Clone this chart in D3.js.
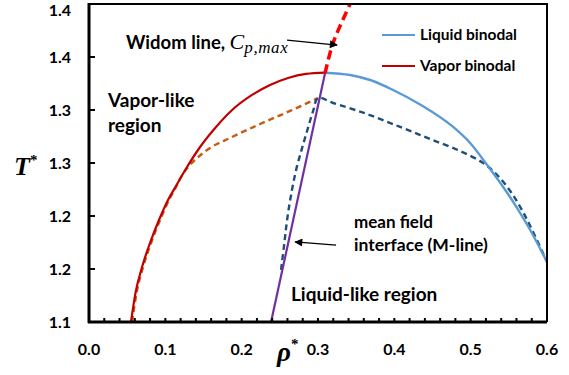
<!DOCTYPE html>
<html>
<head>
<meta charset="utf-8">
<script src="https://cdn.jsdelivr.net/npm/d3@7"></script>
<style>
  body { margin: 0; background: #fff; }
  text { font-family: Lato, "Open Sans", sans-serif; font-weight: bold; fill: #000; }
</style>
</head>
<body>
<div id="chart"></div>
<script>
var margin = {top: 4, right: 22, bottom: 53, left: 89}
var width = 569 - margin.left - margin.right
var height = 375 - margin.top - margin.bottom

// tick values and the (rounded) labels printed on the axis
var xTicks = [0, 0.1, 0.2, 0.3, 0.4, 0.5, 0.6]
var xTickLabels = ["0.0", "0.1", "0.2", "0.3", "0.4", "0.5", "0.6"]
var yTicks = [1.1, 1.15, 1.2, 1.25, 1.3, 1.35, 1.4]
var yTickLabels = ["1.1", "1.2", "1.2", "1.3", "1.3", "1.4", "1.4"]

// [rho*, T*]
var vaporBinodal = [
  [0.0550, 1.1], [0.0609, 1.1274], [0.0695, 1.1519], [0.0799, 1.1745], [0.0917, 1.1962],
  [0.1035, 1.2151], [0.1140, 1.2283], [0.1284, 1.2462], [0.1455, 1.2651], [0.1664, 1.2840],
  [0.1861, 1.2991], [0.2136, 1.3142], [0.2372, 1.3236], [0.2608, 1.3302], [0.2844, 1.3340],
  [0.3093, 1.3352]
]
var liquidBinodal = [
  [0.3093, 1.3352], [0.3421, 1.3330], [0.3683, 1.3283], [0.3984, 1.3189], [0.4338, 1.3052],
  [0.4771, 1.2840], [0.4993, 1.2689], [0.5216, 1.2481], [0.5426, 1.2274], [0.5609, 1.2075],
  [0.5780, 1.1868], [0.6, 1.1566]
]
var vaporMeanField = [
  [0.0564, 1.1], [0.0623, 1.1274], [0.0708, 1.1519], [0.0813, 1.1745], [0.0931, 1.1962],
  [0.1048, 1.2151], [0.1140, 1.2274], [0.1206, 1.2368], [0.1298, 1.2462], [0.1415, 1.2547],
  [0.1586, 1.2642], [0.1848, 1.2736], [0.2241, 1.2868], [0.2634, 1.2991], [0.3001, 1.3113]
]
var liquidMeanField = [
  [0.2516, 1.1491], [0.2556, 1.1726], [0.2595, 1.1962], [0.2647, 1.2198], [0.2713, 1.2434],
  [0.2792, 1.2642], [0.2857, 1.2802], [0.2936, 1.2991], [0.3001, 1.3113], [0.3198, 1.3066],
  [0.3643, 1.2962], [0.4076, 1.2840], [0.4469, 1.2726], [0.4862, 1.2613], [0.5164, 1.2500],
  [0.5347, 1.2387], [0.5518, 1.2236], [0.5649, 1.2085], [0.5780, 1.1906], [0.6, 1.1566]
]
var mLine = [[0.2385, 1.1], [0.3093, 1.3349]]
var widomLine = [[0.3093, 1.3349], [0.3198, 1.3632], [0.3421, 1.4]]

var svg = d3.select("#chart").append("svg")
    .attr("width", 569)
    .attr("height", 375)

var g = svg.append("g")
    .attr("transform", "translate(" + margin.left + "," + margin.top + ")")

var x = d3.scaleLinear().domain([0, 0.6]).range([0, width])
var y = d3.scaleLinear().domain([1.1, 1.4]).range([height, 0])

var monotone = d3.line()
    .x(function(d){ return x(d[0]) })
    .y(function(d){ return y(d[1]) })
    .curve(d3.curveMonotoneX)
var smooth = d3.line()
    .x(function(d){ return x(d[0]) })
    .y(function(d){ return y(d[1]) })
    .curve(d3.curveCatmullRom.alpha(0.5))
var straight = d3.line()
    .x(function(d){ return x(d[0]) })
    .y(function(d){ return y(d[1]) })

svg.append("defs").append("marker")
    .attr("id", "arrow")
    .attr("viewBox", "0 0 10 10")
    .attr("refX", 9).attr("refY", 5)
    .attr("markerWidth", 10).attr("markerHeight", 8)
    .attr("markerUnits", "userSpaceOnUse")
    .attr("orient", "auto")
  .append("path")
    .attr("d", "M0,0 L10,5 L0,10 z")
    .attr("fill", "#000")

// curves
function curve(data, gen, color, w, dash){
  g.append("path")
    .datum(data)
    .attr("d", gen)
    .attr("fill", "none")
    .attr("stroke", color)
    .attr("stroke-width", w)
    .attr("stroke-dasharray", dash)
}
curve(vaporMeanField, monotone, "#C55A11", 2.4, "6,4")
curve(liquidMeanField, smooth, "#1F4E79", 2.4, "6,4")
curve(liquidBinodal, monotone, "#5B9BD5", 2.4, null)
curve(vaporBinodal, monotone, "#C00000", 2.2, null)
curve(mLine, straight, "#7030A0", 2.2, null)
curve(widomLine, smooth, "#FF0000", 3.5, "9,5")

// frame
g.append("path")
    .attr("d", "M0,0 H" + width + " V" + height)
    .attr("fill", "none").attr("stroke", "#000").attr("stroke-width", 2)

// x axis: minor ticks every 0.02, pointing inward
var xAxis = g.append("g").attr("transform", "translate(0," + height + ")")
xAxis.selectAll("line.tick")
  .data(d3.range(0, 31).map(function(i){ return i * 0.02 }))
  .enter().append("line")
    .attr("x1", function(d){ return x(d) }).attr("x2", function(d){ return x(d) })
    .attr("y1", 0).attr("y2", -4)
    .attr("stroke", "#000").attr("stroke-width", 2)
xAxis.append("line")
    .attr("x1", -1).attr("x2", width).attr("stroke", "#000").attr("stroke-width", 3)
xAxis.selectAll("text")
  .data(xTicks)
  .enter().append("text")
    .attr("x", function(d){ return x(d) })
    .attr("y", 33)
    .attr("text-anchor", "middle")
    .style("font-size", "16px")
    .text(function(d, i){ return xTickLabels[i] })

// y axis
var yAxis = g.append("g")
yAxis.selectAll("line")
  .data(yTicks)
  .enter().append("line")
    .attr("y1", function(d){ return y(d) }).attr("y2", function(d){ return y(d) })
    .attr("x1", 0).attr("x2", 6)
    .attr("stroke", "#000").attr("stroke-width", 2)
yAxis.append("line")
    .attr("y1", -1).attr("y2", height + 1).attr("stroke", "#000").attr("stroke-width", 3)
yAxis.selectAll("text")
  .data(yTicks)
  .enter().append("text")
    .attr("x", -18)
    .attr("y", function(d){ return Math.max(y(d), 6) })
    .attr("dy", "0.36em")
    .attr("text-anchor", "end")
    .style("font-size", "16px")
    .text(function(d, i){ return yTickLabels[i] })

// axis titles
var serif = "'Liberation Serif', 'DejaVu Serif', serif"
var tT = svg.append("text").attr("x", 14).attr("y", 175)
    .style("font-family", serif).style("font-style", "italic").style("font-size", "26px")
tT.append("tspan").text("T")
tT.append("tspan").attr("dy", -10).style("font-size", "15px").style("font-style", "normal").text("*")

var tR = svg.append("text").attr("x", 277).attr("y", 361)
    .style("font-family", serif).style("font-style", "italic").style("font-size", "27px")
tR.append("tspan").text("ρ")
tR.append("tspan").attr("dy", -12).style("font-size", "15px").style("font-style", "normal").text("*")

// legend
var legend = [
  {label: "Liquid binodal", color: "#5B9BD5", y: 35},
  {label: "Vapor binodal", color: "#C00000", y: 66}
]
legend.forEach(function(l){
  svg.append("line").attr("x1", 382).attr("x2", 415).attr("y1", l.y).attr("y2", l.y)
    .attr("stroke", l.color).attr("stroke-width", 2.2)
  svg.append("text").attr("x", 420).attr("y", l.y + 5).style("font-size", "15.5px").text(l.label)
})

// annotations
function label(txt, px, py, size){
  return svg.append("text").attr("x", px).attr("y", py).style("font-size", size + "px").text(txt)
}
var w = label("Widom line, ", 126, 49, 18.5)
w.append("tspan").style("font-family", serif).style("font-style", "italic")
  .style("font-weight", "normal").style("font-size", "22px").text("C")
w.append("tspan").attr("dy", 4).style("font-family", serif).style("font-style", "italic")
  .style("font-weight", "normal").style("font-size", "17px").style("letter-spacing", "0.6px").text("p,max")

label("Vapor-like", 108, 107, 19)
label("region", 108, 132, 19)
label("mean field", 354, 228, 17)
label("interface (M-line)", 354, 251, 17.5)
label("Liquid-like region", 291, 301, 19)

var arrows = [
  [[0.2595, 1.3660], [0.3250, 1.3613]],
  [[0.3237, 1.1726], [0.2700, 1.1755]]
]
arrows.forEach(function(a){
  g.append("line")
    .attr("x1", x(a[0][0])).attr("y1", y(a[0][1]))
    .attr("x2", x(a[1][0])).attr("y2", y(a[1][1]))
    .attr("stroke", "#000").attr("stroke-width", 1.3)
    .attr("marker-end", "url(#arrow)")
})
</script>
</body>
</html>
